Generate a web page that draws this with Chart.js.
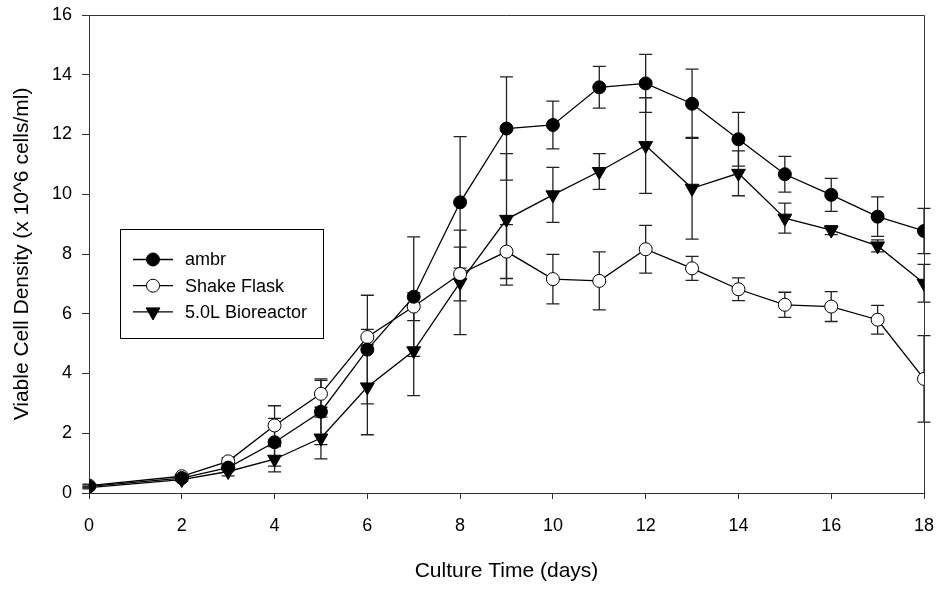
<!DOCTYPE html>
<html>
<head>
<meta charset="utf-8">
<script src="https://cdn.jsdelivr.net/npm/chart.js@4/dist/chart.umd.min.js"></script>
<style>
  html, body { margin: 0; padding: 0; background: #fff; }
  #wrap { width: 939px; height: 590px; }
</style>
</head>
<body>
<div id="wrap"><canvas id="vcd"></canvas></div>
<script>
const days = [0, 2, 3, 4, 5, 6, 7, 8, 9, 10, 11, 12, 13, 14, 15, 16, 17, 18];

const ambr = [0.22, 0.5, 0.85, 1.7, 2.72, 4.8, 6.57, 9.73, 12.2, 12.32, 13.58, 13.71, 13.03, 11.84, 10.67, 9.98, 9.25, 8.77];
const ambrErr = [0.05, 0.05, 0.1, 0.8, 1.1, 1.82, 2.0, 2.2, 1.73, 0.8, 0.7, 0.97, 1.16, 0.9, 0.6, 0.55, 0.66, 0.76];

const shakeFlask = [0.25, 0.56, 1.06, 2.26, 3.32, 5.22, 6.24, 7.33, 8.08, 7.16, 7.1, 8.16, 7.52, 6.82, 6.3, 6.24, 5.8, 3.82];
const shakeFlaskErr = [0.05, 0.06, 0.12, 0.66, 0.45, 0.26, 0.47, 0.9, 0.9, 0.83, 0.97, 0.8, 0.4, 0.38, 0.42, 0.5, 0.48, 1.45];

const bioreactor = [0.18, 0.45, 0.72, 1.13, 1.84, 3.55, 4.76, 7.05, 9.16, 9.98, 10.76, 11.63, 10.2, 10.7, 9.2, 8.8, 8.27, 7.02];
const bioreactorErr = [0.04, 0.05, 0.15, 0.42, 0.7, 1.6, 1.5, 1.75, 2.2, 0.92, 0.6, 1.6, 1.7, 0.75, 0.5, 0.15, 0.2, 0.63];

const seriesLabels = ["ambr", "Shake Flask", "5.0L Bioreactor"];
const xTitle = "Culture Time (days)";
const yTitle = "Viable Cell Density (x 10^6 cells/ml)";

const FONT = "'Liberation Sans', Arial, sans-serif";

function toPoints(ys) {
    return days.map((d, i) => ({ x: d, y: ys[i] }));
}

// error bars drawn under the markers
const errorBars = {
    id: "errorBars",
    beforeDatasetsDraw(chart) {
        const ctx = chart.ctx;
        const xs = chart.scales.x, ys = chart.scales.y;
        ctx.save();
        ctx.strokeStyle = "#222";
        ctx.lineWidth = 1.3;
        chart.data.datasets.forEach(ds => {
            ds.data.forEach((p, i) => {
                const e = ds.err[i];
                const px = xs.getPixelForValue(p.x);
                const top = ys.getPixelForValue(p.y + e);
                const bot = ys.getPixelForValue(Math.max(0, p.y - e));
                ctx.beginPath();
                ctx.moveTo(px, top); ctx.lineTo(px, bot);
                ctx.moveTo(px - 6.5, top); ctx.lineTo(px + 6.5, top);
                ctx.moveTo(px - 6.5, bot); ctx.lineTo(px + 6.5, bot);
                ctx.stroke();
            });
        });
        ctx.restore();
    }
};

// closing frame + boxed legend inside plot
const frameAndLegend = {
    id: "frameAndLegend",
    afterDraw(chart) {
        const ctx = chart.ctx;
        const a = chart.chartArea;
        ctx.save();
        ctx.strokeStyle = "#333";
        ctx.lineWidth = 1;
        ctx.beginPath();
        ctx.moveTo(a.left, a.top + 0.5);
        ctx.lineTo(a.right + 0.5, a.top + 0.5);
        ctx.lineTo(a.right + 0.5, a.bottom);
        ctx.stroke();

        ctx.strokeStyle = "#000";
        ctx.strokeRect(120.5, 229.5, 203, 109);
        ctx.font = "18px " + FONT;
        ctx.textBaseline = "middle";
        chart.data.datasets.forEach((ds, i) => {
            const y = 259.5 + i * 26.2;
            ctx.strokeStyle = "#000";
            ctx.lineWidth = 1.3;
            ctx.beginPath();
            ctx.moveTo(133, y); ctx.lineTo(173, y);
            ctx.stroke();
            ctx.fillStyle = ds.pointBackgroundColor;
            ctx.lineWidth = 1;
            Chart.helpers.drawPoint(ctx, {
                pointStyle: ds.pointStyle,
                rotation: ds.rotation || 0,
                radius: ds.pointRadius,
                borderWidth: 1
            }, 153, y);
            ctx.fillStyle = "#000";
            ctx.fillText(ds.label, 185, y + 1);
        });
        ctx.restore();
    }
};

const makeSet = (label, ys, err, style, fill, radius, rotation) => ({
    label: label,
    data: toPoints(ys),
    err: err,
    borderColor: "#000",
    borderWidth: 1.3,
    pointStyle: style,
    rotation: rotation,
    pointRadius: radius,
    pointHoverRadius: radius,
    pointBackgroundColor: fill,
    pointBorderColor: "#000",
    pointBorderWidth: 1,
    fill: false,
    tension: 0
});

new Chart(document.getElementById("vcd").getContext("2d"), {
    type: "line",
    data: {
        datasets: [
            makeSet(seriesLabels[0], ambr, ambrErr, "circle", "#000", 6.5, 0),
            makeSet(seriesLabels[1], shakeFlask, shakeFlaskErr, "circle", "#fff", 6.5, 0),
            makeSet(seriesLabels[2], bioreactor, bioreactorErr, "triangle", "#000", 8, 180)
        ]
    },
    options: {
        responsive: true,
        maintainAspectRatio: false,
        animation: false,
        events: [],
        layout: { padding: { top: 15, right: 15, left: 0, bottom: 0 } },
        plugins: {
            legend: { display: false },
            tooltip: { enabled: false }
        },
        scales: {
            x: {
                type: "linear",
                min: 0,
                max: 18,
                afterFit: s => { s.height = 97; s.paddingLeft = 0; s.paddingRight = 0; },
                border: { display: true, color: "#333", width: 1 },
                grid: { drawOnChartArea: false, drawTicks: true, tickLength: 6, color: "#333" },
                ticks: { stepSize: 2, color: "#000", padding: 16, font: { family: FONT, size: 18 } },
                title: { display: true, text: xTitle, color: "#000", padding: { top: 0, bottom: 6 }, font: { family: FONT, size: 21 } }
            },
            y: {
                min: 0,
                max: 16,
                afterFit: s => { s.width = 89; s.paddingTop = 0; s.paddingBottom = 0; },
                border: { display: true, color: "#333", width: 1 },
                grid: { drawOnChartArea: false, drawTicks: true, tickLength: 7, color: "#333" },
                ticks: { stepSize: 2, color: "#000", padding: 10, font: { family: FONT, size: 18 } },
                title: { display: true, text: yTitle, color: "#000", padding: { top: 10, bottom: 0 }, font: { family: FONT, size: 21 } }
            }
        }
    },
    plugins: [errorBars, frameAndLegend]
});
</script>
</body>
</html>
